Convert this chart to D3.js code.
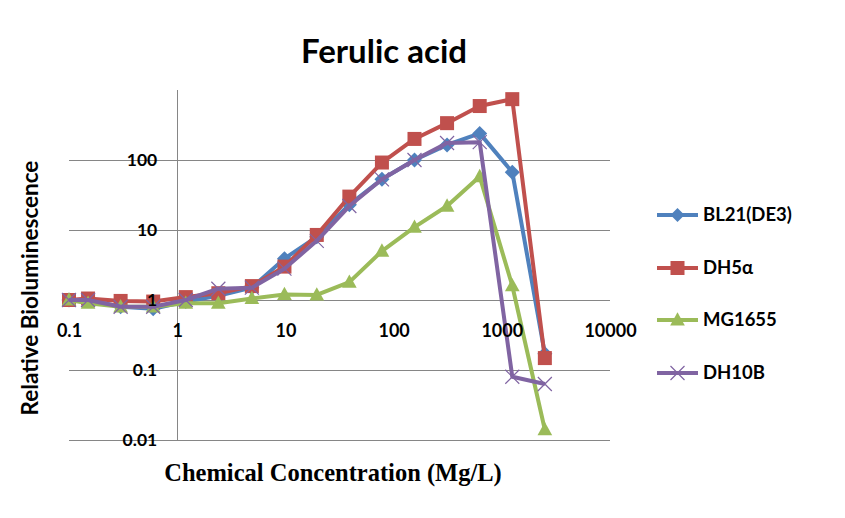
<!DOCTYPE html>
<html><head><meta charset="utf-8">
<script src="https://cdn.jsdelivr.net/npm/d3@7"></script>
<style>body{margin:0;background:#fff}</style></head>
<body><svg id="c" width="845" height="518"></svg>
<script>
const concentrations = [0.1,0.15,0.3,0.6,1.2,2.4,4.9,9.8,19.5,39,78,156,312,625,1250,2500];
const seriesNames = ["BL21(DE3)","DH5\u03b1","MG1655","DH10B"];
const bl21 = [1.0,1.0,0.8,0.75,0.95,1.15,1.5,3.9,8,23,53,100,164,240,67,0.17];
const dh5a = [1.0,1.05,0.97,0.95,1.1,1.25,1.58,3.0,8.5,30,92,200,336,590,740,0.148];
const mg1655 = [1.0,0.9,0.8,0.8,0.9,0.9,1.05,1.2,1.18,1.8,5.0,11,22,58,1.6,0.014];
const dh10b = [1.0,1.0,0.8,0.8,1.0,1.45,1.5,2.8,7,22,53,100,175,180,0.08,0.063];
const xTicks = [0.1,1,10,100,1000,10000];
const yTicks = [0.01,0.1,1,10,100];
const colors = ["#4F81BD","#C0504D","#9BBB59","#8064A2"];
const markers = ["diamond","square","triangle","cross"];
const allSeries = [bl21,dh5a,mg1655,dh10b];

const svg = d3.select("#c");
const x = d3.scaleLog().domain([0.1,10000]).range([69,610]);
const y = d3.scaleLog().domain([0.01,1000]).range([440,90]);
const sans = "Lato, 'Open Sans', sans-serif";

// gridlines
svg.append("g").selectAll("line").data(yTicks).join("line")
  .attr("x1",x.range()[0]).attr("x2",x.range()[1])
  .attr("y1",d=>y(d)).attr("y2",d=>y(d))
  .attr("stroke","#868686").attr("stroke-width",1).attr("shape-rendering","crispEdges");

// y axis line at x=1
svg.append("line").attr("x1",x(1)).attr("x2",x(1)).attr("y1",y.range()[1]).attr("y2",y.range()[0])
  .attr("stroke","#868686").attr("shape-rendering","crispEdges");

function marker(g, type, color, s) {
  if (type==="diamond") g.append("path").attr("d",`M0,${-s}L${s},0L0,${s}L${-s},0Z`).attr("fill",color);
  else if (type==="square") g.append("rect").attr("x",-s).attr("y",-s).attr("width",2*s).attr("height",2*s).attr("fill",color);
  else if (type==="triangle") g.append("path").attr("d",`M0,${-s*1.1}L${s*1.05},${s*0.8}L${-s*1.05},${s*0.8}Z`).attr("fill",color);
  else g.append("path").attr("d",`M${-s},${-s}L${s},${s}M${-s},${s}L${s},${-s}`).attr("stroke",color).attr("stroke-width",1.2).attr("fill","none");
}

const line = d3.line().x(d=>x(d[0])).y(d=>y(d[1]));
allSeries.forEach((vals,i)=>{
  const pts = concentrations.map((c,j)=>[c,vals[j]]);
  const g = svg.append("g");
  g.append("path").datum(pts).attr("d",line).attr("fill","none")
    .attr("stroke",colors[i]).attr("stroke-width",4).attr("stroke-linejoin","round");
  pts.forEach(p=>{
    const m = g.append("g").attr("transform",`translate(${x(p[0])},${y(p[1])})`);
    marker(m, markers[i], colors[i], i===0?7.5:(i===1?7:7));
  });
});

// axes labels (drawn on top of series)
const fmt = d => (d>=1 ? d3.format("d")(d) : String(d));
const yAxis = svg.append("g").attr("transform",`translate(${x(1)},0)`)
  .call(d3.axisLeft(y).tickValues(yTicks).tickSize(0).tickPadding(20).tickFormat(fmt));
yAxis.select(".domain").remove();
yAxis.selectAll("text").attr("font-family",sans).attr("font-size",17.5).attr("font-weight","bold").attr("fill","#000");

const xAxis = svg.append("g").attr("transform",`translate(0,${y(1)})`)
  .call(d3.axisBottom(x).tickValues(xTicks).tickSize(0).tickPadding(24).tickFormat(fmt));
xAxis.select(".domain").remove();
xAxis.selectAll("text").attr("font-family",sans).attr("font-size",18).attr("font-weight","bold").attr("fill","#000");

// title
svg.append("text").attr("x",384).attr("y",63).attr("text-anchor","middle")
  .attr("font-family",sans).attr("font-weight","bold").attr("font-size",33)
  .text("Ferulic acid");
// y title
svg.append("text").attr("transform","translate(38,288) rotate(-90)").attr("text-anchor","middle")
  .attr("font-family",sans).attr("font-weight","bold").attr("font-size",22.5)
  .text("Relative Bioluminescence");
// x title
svg.append("text").attr("x",333).attr("y",481).attr("text-anchor","middle")
  .attr("font-family","'Liberation Serif', 'Times New Roman', serif").attr("font-weight","bold").attr("font-size",24.5)
  .text("Chemical Concentration (Mg/L)");

// legend
const ly = [215,268,320,373];
seriesNames.forEach((n,i)=>{
  const g = svg.append("g").attr("transform",`translate(657,${ly[i]})`);
  g.append("line").attr("x1",0).attr("x2",41).attr("stroke",colors[i]).attr("stroke-width",4);
  const m = g.append("g").attr("transform","translate(20.5,0)");
  marker(m, markers[i], colors[i], 7);
  g.append("text").attr("x",46).attr("y",0).attr("dy","0.35em")
    .attr("font-family",sans).attr("font-weight","bold").attr("font-size",18.5)
    .text(n);
});
</script></body></html>
